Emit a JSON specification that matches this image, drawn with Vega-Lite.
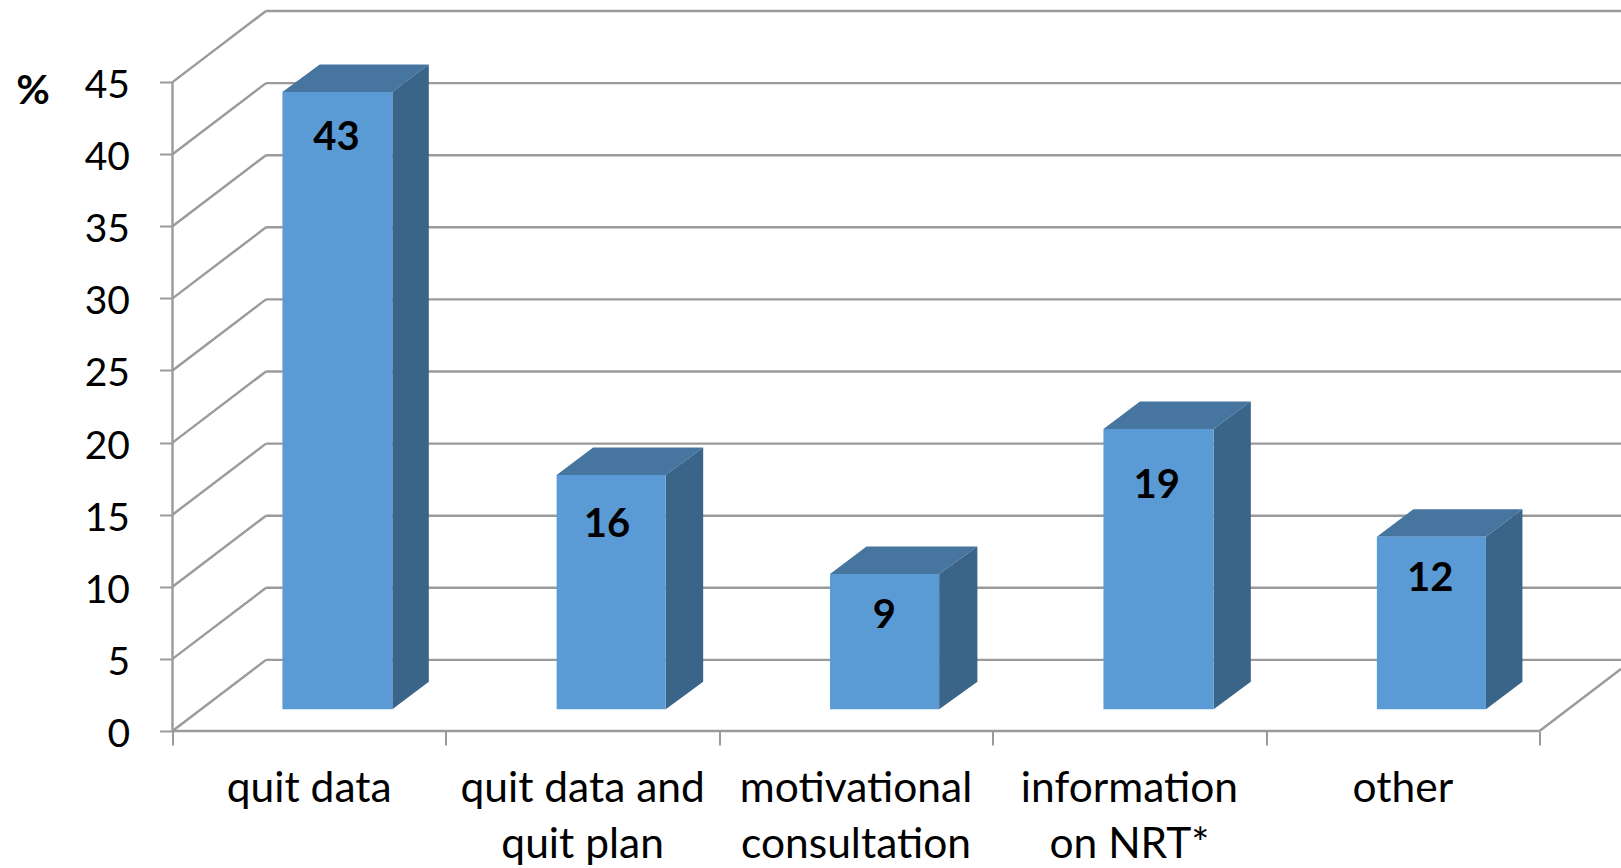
{"$schema":"https://vega.github.io/schema/vega-lite/v6.json","width":1448.5,"height":720,"autosize":"none","padding":{"left":172.5,"top":11,"right":0,"bottom":137},"background":"white","config":{"view":{"stroke":null},"font":"Lato"},
"datasets":{
"grid":[
{"x":0,"y":0,"x2":0.342,"y2":4.93},{"x":0,"y":5,"x2":0.342,"y2":9.93},{"x":0,"y":10,"x2":0.342,"y2":14.93},{"x":0,"y":15,"x2":0.342,"y2":19.93},{"x":0,"y":20,"x2":0.342,"y2":24.93},{"x":0,"y":25,"x2":0.342,"y2":29.93},{"x":0,"y":30,"x2":0.342,"y2":34.93},{"x":0,"y":35,"x2":0.342,"y2":39.93},{"x":0,"y":40,"x2":0.342,"y2":44.93},{"x":0,"y":45,"x2":0.342,"y2":49.93},
{"x":0.342,"y":4.93,"x2":5.298,"y2":4.93},{"x":0.342,"y":9.93,"x2":5.298,"y2":9.93},{"x":0.342,"y":14.93,"x2":5.298,"y2":14.93},{"x":0.342,"y":19.93,"x2":5.298,"y2":19.93},{"x":0.342,"y":24.93,"x2":5.298,"y2":24.93},{"x":0.342,"y":29.93,"x2":5.298,"y2":29.93},{"x":0.342,"y":34.93,"x2":5.298,"y2":34.93},{"x":0.342,"y":39.93,"x2":5.298,"y2":39.93},{"x":0.342,"y":44.93,"x2":5.298,"y2":44.93},{"x":0.342,"y":49.93,"x2":5.298,"y2":49.93},
{"x":0,"y":0,"x2":5,"y2":0},{"x":5,"y":0,"x2":5.298,"y2":4.3},{"x":0,"y":0,"x2":0,"y2":45}],
"faces":[
{"category":"quit data","part":"top","x":0.402,"y":44.31,"y2":44.31},{"category":"quit data","part":"top","x":0.5385,"y":44.31,"y2":46.22},{"category":"quit data","part":"top","x":0.804,"y":44.31,"y2":46.22},{"category":"quit data","part":"top","x":0.9375,"y":46.22,"y2":46.22},
{"category":"quit data","part":"side","x":0.804,"y":1.5,"y2":44.31},{"category":"quit data","part":"side","x":0.9375,"y":3.41,"y2":46.22},
{"category":"quit data and quit plan","part":"top","x":1.405,"y":17.75,"y2":17.75},{"category":"quit data and quit plan","part":"top","x":1.5385,"y":17.75,"y2":19.66},{"category":"quit data and quit plan","part":"top","x":1.804,"y":17.75,"y2":19.66},{"category":"quit data and quit plan","part":"top","x":1.941,"y":19.66,"y2":19.66},
{"category":"quit data and quit plan","part":"side","x":1.804,"y":1.5,"y2":17.75},{"category":"quit data and quit plan","part":"side","x":1.941,"y":3.41,"y2":19.66},
{"category":"motivational consultation","part":"top","x":2.405,"y":10.89,"y2":10.89},{"category":"motivational consultation","part":"top","x":2.5385,"y":10.89,"y2":12.8},{"category":"motivational consultation","part":"top","x":2.804,"y":10.89,"y2":12.8},{"category":"motivational consultation","part":"top","x":2.944,"y":12.8,"y2":12.8},
{"category":"motivational consultation","part":"side","x":2.804,"y":1.5,"y2":10.89},{"category":"motivational consultation","part":"side","x":2.944,"y":3.41,"y2":12.8},
{"category":"information on NRT*","part":"top","x":3.405,"y":20.94,"y2":20.94},{"category":"information on NRT*","part":"top","x":3.5385,"y":20.94,"y2":22.85},{"category":"information on NRT*","part":"top","x":3.808,"y":20.94,"y2":22.85},{"category":"information on NRT*","part":"top","x":3.944,"y":22.85,"y2":22.85},
{"category":"information on NRT*","part":"side","x":3.808,"y":1.5,"y2":20.94},{"category":"information on NRT*","part":"side","x":3.944,"y":3.41,"y2":22.85},
{"category":"other","part":"top","x":4.405,"y":13.47,"y2":13.47},{"category":"other","part":"top","x":4.5385,"y":13.47,"y2":15.38},{"category":"other","part":"top","x":4.804,"y":13.47,"y2":15.38},{"category":"other","part":"top","x":4.9375,"y":15.38,"y2":15.38},
{"category":"other","part":"side","x":4.804,"y":1.5,"y2":13.47},{"category":"other","part":"side","x":4.9375,"y":3.41,"y2":15.38}],
"bars":[
{"category":"quit data","label":["quit data"],"value":43,"x0":0.402,"x1":0.804,"center":0.5,"base":1.5,"top":44.31,"valueX":0.6,"valueY":41.12},
{"category":"quit data and quit plan","label":["quit data and","quit plan"],"value":16,"x0":1.405,"x1":1.804,"center":1.5,"base":1.5,"top":17.75,"valueX":1.589,"valueY":14.27},
{"category":"motivational consultation","label":["motivational","consultation"],"value":9,"x0":2.405,"x1":2.804,"center":2.5,"base":1.5,"top":10.89,"valueX":2.604,"valueY":7.98},
{"category":"information on NRT*","label":["information","on NRT*"],"value":19,"x0":3.405,"x1":3.808,"center":3.5,"base":1.5,"top":20.94,"valueX":3.6,"valueY":16.96},
{"category":"other","label":["other"],"value":12,"x0":4.405,"x1":4.804,"center":4.5,"base":1.5,"top":13.47,"valueX":4.6,"valueY":10.56}]
},
"resolve":{"axis":{"x":"independent","y":"independent"}},
"layer":[
{"data":{"name":"grid"},"mark":{"type":"rule","color":"#9A9A9A","strokeWidth":2.4},
"encoding":{
"x":{"field":"x","type":"quantitative","scale":{"domain":[0,5.298],"nice":false,"zero":false},"axis":{"values":[0,1,2,3,4,5],"labels":false,"domain":false,"grid":false,"tickSize":14,"tickWidth":2,"tickColor":"#9A9A9A","title":null}},
"x2":{"field":"x2"},
"y":{"field":"y","type":"quantitative","scale":{"domain":[0,49.93],"nice":false,"zero":false},"axis":{"values":[0,5,10,15,20,25,30,35,40,45],"domain":false,"grid":false,"tickSize":13,"tickWidth":2,"tickColor":"#9A9A9A","labelFontSize":39,"labelFont":"Lato","labelColor":"#000000","labelPadding":30,"labelOffset":3.5,"title":"%","titleFontSize":41,"titleFont":"Lato","titleFontWeight":"bold","titleColor":"#000000","titleAngle":0,"titleX":-140,"titleY":80,"titleAlign":"center","titleBaseline":"middle"}},
"y2":{"field":"y2"}}},
{"data":{"name":"faces"},"mark":{"type":"area","orient":"vertical","line":false},
"encoding":{
"x":{"field":"x","type":"quantitative","axis":null},
"y":{"field":"y","type":"quantitative","stack":null,"axis":null},
"y2":{"field":"y2"},
"color":{"field":"part","type":"nominal","scale":{"domain":["top","side"],"range":["#4675A0","#3A6488"]},"legend":null},
"detail":{"field":"category"}}},
{"data":{"name":"bars"},"mark":{"type":"rect","color":"#5B9BD5"},
"encoding":{"x":{"field":"x0","type":"quantitative","axis":null},"x2":{"field":"x1"},"y":{"field":"base","type":"quantitative","axis":null},"y2":{"field":"top"}}},
{"data":{"name":"bars"},"mark":{"type":"text","fontSize":40,"fontWeight":"bold","font":"Lato","color":"#000000","align":"center","baseline":"middle"},
"encoding":{"x":{"field":"valueX","type":"quantitative","axis":null},"y":{"field":"valueY","type":"quantitative","axis":null},"text":{"field":"value","type":"quantitative"}}},
{"data":{"name":"bars"},"mark":{"type":"text","fontSize":42.5,"font":"Lato","color":"#000000","align":"center","baseline":"alphabetic","lineHeight":56},
"encoding":{"x":{"field":"center","type":"quantitative","axis":null},"y":{"datum":-4.92,"type":"quantitative","axis":null},"text":{"field":"label"}}}
]}
